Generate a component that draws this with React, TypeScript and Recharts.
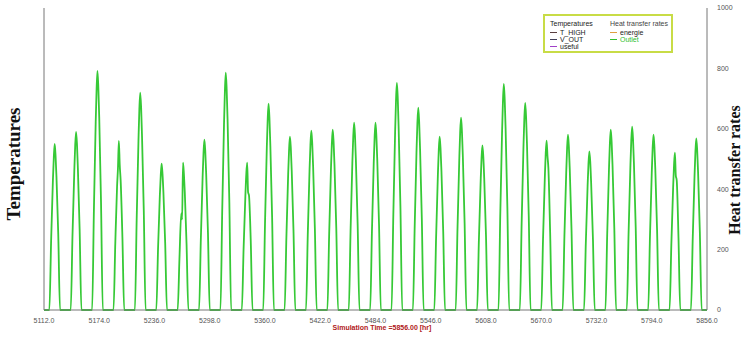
import { LineChart, Line, XAxis, YAxis, ReferenceLine } from 'recharts';

// simulation window, hours
const START_HR = 5112;
const END_HR = 5856;

const X_TICKS = [5112, 5174, 5236, 5298, 5360, 5422, 5484, 5546, 5608, 5670, 5732, 5794, 5856];
const Y_TICKS = [0, 200, 400, 600, 800, 1000];

// hour of day at which each daily reading was taken
const DAY_HOURS = [6, 8, 10, 11, 12, 13, 14, 16, 18];

// Outlet heat transfer rate, one row per day
const OUTLET_DAYS = [
  [0, 230, 430, 505, 550, 510, 440, 250, 0],
  [0, 250, 460, 545, 590, 550, 470, 265, 0],
  [0, 330, 620, 730, 792, 735, 635, 355, 0],
  [0, 220, 410, 470, 560, 480, 430, 240, 0],
  [0, 300, 560, 665, 720, 670, 575, 325, 0],
  [0, 205, 380, 445, 485, 450, 390, 220, 0],
  [0, 170, 320, 300, 488, 450, 390, 215, 0],
  [0, 235, 440, 520, 564, 525, 450, 255, 0],
  [0, 330, 615, 725, 786, 730, 630, 355, 0],
  [0, 205, 380, 450, 488, 390, 380, 230, 0],
  [0, 285, 535, 630, 683, 635, 545, 305, 0],
  [0, 240, 450, 530, 574, 535, 460, 260, 0],
  [0, 250, 465, 548, 594, 552, 475, 265, 0],
  [0, 250, 465, 550, 597, 555, 478, 270, 0],
  [0, 260, 485, 572, 620, 577, 495, 280, 0],
  [0, 260, 485, 572, 620, 575, 495, 278, 0],
  [0, 315, 588, 693, 752, 700, 600, 338, 0],
  [0, 280, 523, 618, 670, 623, 535, 300, 0],
  [0, 240, 448, 530, 574, 534, 460, 258, 0],
  [0, 268, 497, 588, 637, 592, 510, 287, 0],
  [0, 229, 425, 503, 545, 507, 436, 245, 0],
  [0, 315, 585, 690, 749, 697, 600, 337, 0],
  [0, 288, 535, 633, 686, 638, 548, 308, 0],
  [0, 235, 437, 518, 561, 510, 470, 255, 0],
  [0, 244, 453, 536, 581, 540, 465, 262, 0],
  [0, 220, 410, 485, 525, 490, 420, 236, 0],
  [0, 250, 466, 551, 597, 555, 478, 268, 0],
  [0, 255, 473, 560, 607, 565, 486, 273, 0],
  [0, 244, 453, 536, 581, 540, 465, 262, 0],
  [0, 219, 406, 480, 521, 445, 430, 240, 0],
  [0, 238, 443, 524, 568, 528, 455, 255, 0],
];

const data: { t: number; outlet: number }[] = [{ t: START_HR, outlet: 0 }];
OUTLET_DAYS.forEach((day, i) => {
  day.forEach((v, j) => {
    data.push({ t: START_HR + 24 * i + DAY_HOURS[j], outlet: v });
  });
});
data.push({ t: END_HR, outlet: 0 });

const SANS = '"Liberation Sans", Arial, sans-serif';
const SERIF = '"Liberation Serif", "Times New Roman", serif';

function LegendBox() {
  const row = (color: string, label: string, textColor = '#222') => (
    <div style={{ display: 'flex', alignItems: 'center', height: 7 }}>
      <span style={{ display: 'inline-block', width: 7, height: 1.5, background: color, marginRight: 3 }} />
      <span style={{ color: textColor }}>{label}</span>
    </div>
  );
  return (
    <div
      style={{
        position: 'absolute',
        left: 543,
        top: 14,
        width: 130,
        height: 39,
        boxSizing: 'border-box',
        border: '2px solid #c8dc46',
        background: '#fff',
        fontFamily: SANS,
        fontSize: 7,
        lineHeight: '7px',
        display: 'flex',
        padding: '4px 0 0 5px',
      }}
    >
      <div style={{ width: 60 }}>
        <div style={{ color: '#222', marginBottom: 2 }}>Temperatures</div>
        {row('#5a4040', 'T_HIGH')}
        {row('#404058', 'V_OUT')}
        {row('#a040c8', 'useful')}
      </div>
      <div>
        <div style={{ color: '#444', marginBottom: 2 }}>Heat transfer rates</div>
        {row('#e0a040', 'energie')}
        {row('#30c030', 'Outlet', '#30c030')}
      </div>
    </div>
  );
}

export default function App() {
  return (
    <div style={{ position: 'absolute', left: 0, top: 0, width: 745, height: 338, background: '#fff' }}>
      <LineChart width={745} height={338} data={data} margin={{ top: 8, right: 8, left: 8, bottom: 8 }}>
        <XAxis
          dataKey="t"
          type="number"
          domain={[START_HR, END_HR]}
          ticks={X_TICKS}
          tickFormatter={(v: number) => v.toFixed(1)}
          interval={0}
          height={20}
          stroke="#777"
          tickLine={false}
          tickMargin={2}
          tick={{ fill: '#555', fontSize: 7, fontFamily: SANS }}
          label={{
            content: () => (
              <text x={382} y={330} textAnchor="middle" fill="#b02020" fontSize={7} fontWeight="bold" fontFamily={SANS}>
                Simulation Time =5856.00 [hr]
              </text>
            ),
          }}
        />
        <YAxis
          yAxisId="left"
          domain={[0, 1000]}
          ticks={Y_TICKS}
          width={36}
          stroke="#777"
          tickLine={false}
          tickMargin={3}
          tick={{ fill: '#555', fontSize: 7, fontFamily: SANS }}
          label={{
            content: () => (
              <text
                x={13}
                y={164}
                transform="rotate(-90 13 164)"
                textAnchor="middle"
                dominantBaseline="central"
                fill="#111"
                fontSize={19}
                fontWeight="bold"
                fontFamily={SERIF}
              >
                Temperatures
              </text>
            ),
          }}
        />
        <YAxis
          yAxisId="right"
          orientation="right"
          domain={[0, 1000]}
          ticks={Y_TICKS}
          width={30}
          stroke="#777"
          tickLine={false}
          tickMargin={4}
          tick={{ fill: '#555', fontSize: 7, fontFamily: SANS }}
          label={{
            content: () => (
              <text
                x={734}
                y={170}
                transform="rotate(-90 734 170)"
                textAnchor="middle"
                dominantBaseline="central"
                fill="#111"
                fontSize={16}
                fontWeight="bold"
                fontFamily={SERIF}
              >
                Heat transfer rates
              </text>
            ),
          }}
        />
        <ReferenceLine yAxisId="left" y={1000} stroke="#999" />
        <Line
          yAxisId="right"
          dataKey="outlet"
          type="monotone"
          stroke="#36c936"
          strokeWidth={1.8}
          dot={false}
          isAnimationActive={false}
        />
      </LineChart>
      <LegendBox />
    </div>
  );
}
